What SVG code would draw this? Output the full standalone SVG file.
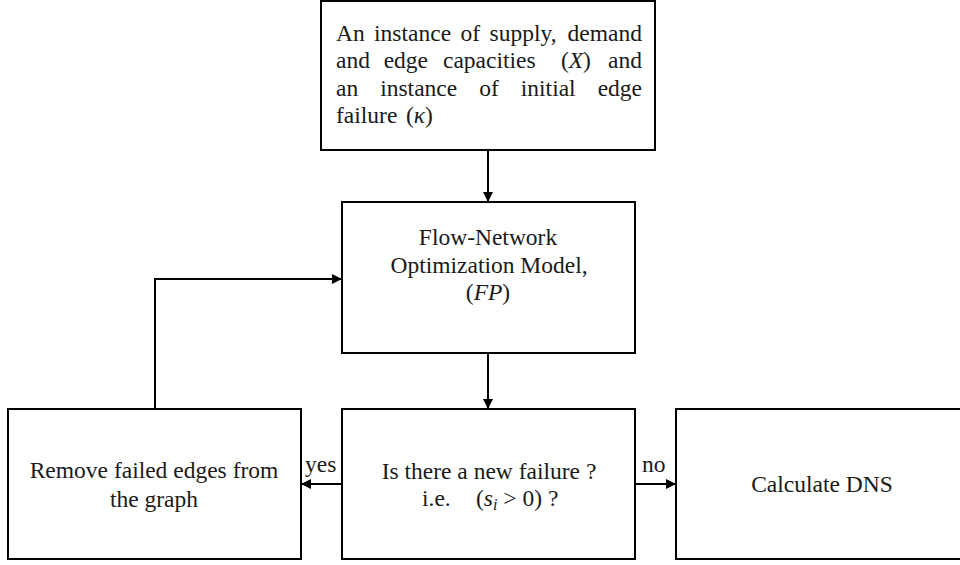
<svg xmlns="http://www.w3.org/2000/svg" width="960" height="565" viewBox="0 0 960 565">
<defs>
<marker id="ah" viewBox="0 0 10 10" refX="10" refY="5" markerWidth="11" markerHeight="10" markerUnits="userSpaceOnUse" orient="auto">
<path d="M0,0 L10,5 L0,10 z" fill="#000"/>
</marker>
</defs>
<style>
.box{fill:#fff;stroke:#000;stroke-width:2}
.t{font-family:"Liberation Serif","Times New Roman",serif;font-size:23.5px;fill:#1a1a1a}
.c{text-anchor:middle}
.i{font-style:italic}
.conn{fill:none;stroke:#000;stroke-width:2}
</style>
<rect width="960" height="565" fill="#fff"/>
<g id="connectors">
<line class="conn" x1="488" y1="150" x2="488" y2="202" marker-end="url(#ah)"/>
<line class="conn" x1="488" y1="353" x2="488" y2="409" marker-end="url(#ah)"/>
<polyline class="conn" points="155,409 155,279 342,279" marker-end="url(#ah)"/>
<line class="conn" x1="342" y1="484" x2="301" y2="484" marker-end="url(#ah)"/>
<line class="conn" x1="635" y1="484" x2="676" y2="484" marker-end="url(#ah)"/>
<text class="t" x="305" y="472">yes</text>
<text class="t" x="642" y="472">no</text>
</g>
<g id="node-input">
<rect class="box" x="321" y="1" width="334" height="149"/>
<text class="t" y="41"><tspan x="336">An</tspan><tspan x="374.1">instance</tspan><tspan x="460.5">of</tspan><tspan x="489.5">supply,</tspan><tspan x="642" text-anchor="end">demand</tspan></text>
<text class="t" y="68"><tspan x="336">and</tspan><tspan x="383.7">edge</tspan><tspan x="443">capacities</tspan><tspan x="560.9">(<tspan class="i">X</tspan>)</tspan><tspan x="642" text-anchor="end">and</tspan></text>
<text class="t" y="96"><tspan x="336">an</tspan><tspan x="380.2">instance</tspan><tspan x="479.2">of</tspan><tspan x="520.8">initial</tspan><tspan x="642" text-anchor="end">edge</tspan></text>
<text class="t" y="123"><tspan x="336">failure</tspan><tspan x="406">(<tspan class="i">κ</tspan>)</tspan></text>
</g>
<g id="node-fp">
<rect class="box" x="342" y="202" width="293" height="151"/>
<text class="t c" x="488" y="245">Flow-Network</text>
<text class="t c" x="489" y="273">Optimization Model,</text>
<text class="t c" x="488" y="300">(<tspan class="i">FP</tspan>)</text>
</g>
<g id="node-check">
<rect class="box" x="342" y="409" width="293" height="150"/>
<text class="t c" x="489" y="479">Is there a new failure ?</text>
<text class="t" x="422" y="506">i.e.<tspan x="476">(<tspan class="i">s</tspan><tspan font-size="16" dy="4" class="i">i</tspan><tspan dy="-4"> &gt; 0) ?</tspan></tspan></text>
</g>
<g id="node-remove">
<rect class="box" x="8" y="409" width="293" height="150"/>
<text class="t c" x="154" y="478">Remove failed edges from</text>
<text class="t c" x="154" y="507">the graph</text>
</g>
<g id="node-dns">
<rect class="box" x="676" y="409" width="294" height="150"/>
<text class="t c" x="822" y="492">Calculate DNS</text>
</g>
</svg>
